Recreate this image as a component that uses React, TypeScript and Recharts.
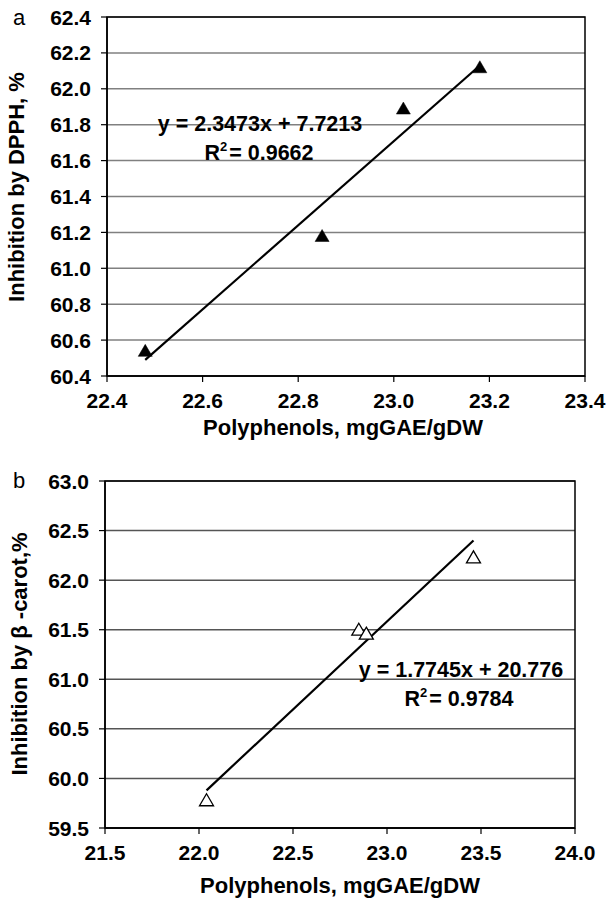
import React from 'react';
import { ScatterChart, Scatter, XAxis, YAxis, CartesianGrid, ReferenceArea } from 'recharts';

const FONT = '"Liberation Sans", Arial, Helvetica, sans-serif';

// panel a: DPPH
const dpphX = [22.48, 22.85, 23.02, 23.18];
const dpphY = [60.54, 61.18, 61.89, 62.12];
const dpphFitX = [22.48, 23.18];
const dpphFitY = [60.49, 62.13];
const dpphXTicks = [22.4, 22.6, 22.8, 23.0, 23.2, 23.4];
const dpphYTicks = [60.4, 60.6, 60.8, 61.0, 61.2, 61.4, 61.6, 61.8, 62.0, 62.2, 62.4];

// panel b: beta-carotene
const carotX = [22.04, 22.85, 22.89, 23.46];
const carotY = [59.78, 61.5, 61.46, 62.23];
const carotFitX = [22.04, 23.46];
const carotFitY = [59.88, 62.4];
const carotXTicks = [21.5, 22.0, 22.5, 23.0, 23.5, 24.0];
const carotYTicks = [59.5, 60.0, 60.5, 61.0, 61.5, 62.0, 62.5, 63.0];

const zip = (xs: number[], ys: number[]) => xs.map((x, i) => ({ x, y: ys[i] }));

const Triangle = (props: any) => {
    const { cx, cy, filled } = props;
    if (cx == null || cy == null) return <g />;
    return (
        <polygon
            points={`${cx},${cy - 6.5} ${cx + 7},${cy + 5.5} ${cx - 7},${cy + 5.5}`}
            fill={filled ? '#000' : '#fff'}
            stroke="#000"
            strokeWidth={filled ? 0.5 : 1.3}
        />
    );
};

const XTick = (props: any) => {
    const { x, y, payload } = props;
    return (
        <text x={x} y={y} dy={26} textAnchor="middle" fontSize={21} fontWeight="bold" fontFamily={FONT} fill="#000">
            {Number(payload.value).toFixed(1)}
        </text>
    );
};

const YTick = (props: any) => {
    const { x, y, payload } = props;
    return (
        <text x={x - 10} y={y} dy={7.5} textAnchor="end" fontSize={21} fontWeight="bold" fontFamily={FONT} fill="#000">
            {Number(payload.value).toFixed(1)}
        </text>
    );
};

const bold = { fontFamily: FONT, fontWeight: 'bold' as const, fill: '#000' };

interface PanelProps {
    height: number;
    margin: { top: number; right: number; left: number; bottom: number };
    xTicks: number[];
    yTicks: number[];
    points: { x: number; y: number }[];
    fit: { x: number; y: number }[];
    filled: boolean;
    gridColor: string;
    xAxisHeight: number;
    yLeft: number;
    children?: React.ReactNode;
}

const Panel = ({ height, margin, xTicks, yTicks, points, fit, filled, gridColor, xAxisHeight, yLeft, children }: PanelProps) => {
    const xMin = xTicks[0];
    const xMax = xTicks[xTicks.length - 1];
    const yMin = yTicks[0];
    const yMax = yTicks[yTicks.length - 1];
    return (
        <ScatterChart width={611} height={height} margin={margin}>
            <CartesianGrid vertical={false} stroke={gridColor} strokeWidth={1.5} />
            <XAxis
                type="number"
                dataKey="x"
                domain={[xMin, xMax]}
                ticks={xTicks}
                interval={0}
                height={xAxisHeight}
                tickSize={6}
                tickMargin={0}
                axisLine={{ stroke: '#000', strokeWidth: 1.5 }}
                tickLine={{ stroke: '#000', strokeWidth: 1.2 }}
                tick={<XTick />}
                allowDataOverflow
            />
            <YAxis
                type="number"
                dataKey="y"
                domain={[yMin, yMax]}
                ticks={yTicks}
                interval={0}
                width={yLeft}
                tickSize={6}
                tickMargin={0}
                axisLine={{ stroke: '#000', strokeWidth: 1.5 }}
                tickLine={{ stroke: '#000', strokeWidth: 1.2 }}
                tick={<YTick />}
                allowDataOverflow
            />
            <ReferenceArea x1={xMin} x2={xMax} y1={yMin} y2={yMax} fill="none" stroke="#000" strokeWidth={1.5} ifOverflow="visible" />
            <Scatter
                data={fit}
                line={{ stroke: '#000', strokeWidth: 2.2 }}
                shape={() => <g />}
                isAnimationActive={false}
                legendType="none"
            />
            <Scatter
                data={points}
                shape={(p: any) => <Triangle {...p} filled={filled} />}
                isAnimationActive={false}
                legendType="none"
            />
            {children}
        </ScatterChart>
    );
};

export default function App() {
    return (
        <div style={{ position: 'absolute', left: 0, top: 0, width: 611, height: 902, background: '#fff' }}>
            <div style={{ position: 'absolute', left: 0, top: 0 }}>
                <Panel
                    height={440}
                    margin={{ top: 17, right: 26, left: 0, bottom: 0 }}
                    xTicks={dpphXTicks}
                    yTicks={dpphYTicks}
                    points={zip(dpphX, dpphY)}
                    fit={zip(dpphFitX, dpphFitY)}
                    filled
                    gridColor="#808080"
                    xAxisHeight={64}
                    yLeft={107}
                >
                    <text x={13} y={25} fontSize={22} fontFamily={FONT} fill="#000">a</text>
                    <text x={24} y={187} transform="rotate(-90 24 187)" textAnchor="middle" fontSize={22} {...bold}>
                        Inhibition by DPPH, %
                    </text>
                    <text x={343} y={435} textAnchor="middle" fontSize={22} {...bold}>
                        Polyphenols, mgGAE/gDW
                    </text>
                    <text x={260} y={130.5} textAnchor="middle" fontSize={21.5} {...bold}>
                        y = 2.3473x + 7.7213
                    </text>
                    <text x={259} y={160} textAnchor="middle" fontSize={21.5} {...bold}>
                        R<tspan fontSize={13} dy={-9}>2</tspan>
                        <tspan dy={9} dx={2}>= 0.9662</tspan>
                    </text>
                </Panel>
            </div>
            <div style={{ position: 'absolute', left: 0, top: 440 }}>
                <Panel
                    height={462}
                    margin={{ top: 41, right: 36, left: 0, bottom: 0 }}
                    xTicks={carotXTicks}
                    yTicks={carotYTicks}
                    points={zip(carotX, carotY)}
                    fit={zip(carotFitX, carotFitY)}
                    filled={false}
                    gridColor="#555"
                    xAxisHeight={74}
                    yLeft={105}
                >
                    <text x={13} y={48} fontSize={22} fontFamily={FONT} fill="#000">b</text>
                    <text x={27} y={214} transform="rotate(-90 27 214)" textAnchor="middle" fontSize={22} {...bold}>
                        Inhibition by β -carot,%
                    </text>
                    <text x={340} y={453} textAnchor="middle" fontSize={22} {...bold}>
                        Polyphenols, mgGAE/gDW
                    </text>
                    <text x={461} y={236.5} textAnchor="middle" fontSize={21.5} {...bold}>
                        y = 1.7745x + 20.776
                    </text>
                    <text x={459} y={266} textAnchor="middle" fontSize={21.5} {...bold}>
                        R<tspan fontSize={13} dy={-9}>2</tspan>
                        <tspan dy={9} dx={2}>= 0.9784</tspan>
                    </text>
                </Panel>
            </div>
        </div>
    );
}
